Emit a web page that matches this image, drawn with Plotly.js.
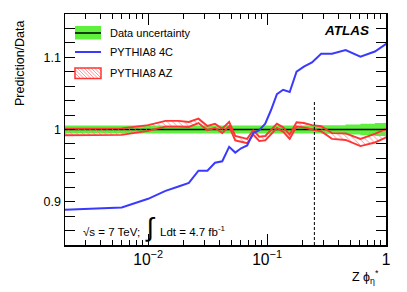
<!DOCTYPE html>
<html>
<head>
<meta charset="utf-8">
<script src="https://cdn.plot.ly/plotly-3.0.1.min.js"></script>
<style>html,body{margin:0;padding:0;background:#fff;}#chart{width:407px;height:292px;}</style>
</head>
<body>
<div id="chart"></div>
<script>
// ---- data ----
const phiStar = [0.002,0.006,0.010,0.014,0.018,0.022,0.0265,0.0315,0.0365,0.042,0.048,0.054,0.0605,0.068,0.0765,0.086,0.0965,0.108,0.121,0.1365,0.155,0.177,0.204,0.2385,0.285,0.3515,0.4575,0.6095,0.8065,1.0355];
const ratio4C = [0.889,0.892,0.904,0.915,0.921,0.926,0.943,0.943,0.954,0.956,0.976,0.968,0.974,0.978,0.995,0.999,1.008,1.027,1.049,1.055,1.052,1.080,1.087,1.093,1.105,1.105,1.110,1.101,1.108,1.120];
const ratioAZ = [0.9965,0.997,1.002,1.008,1.008,1.007,1.012,1.002,1.005,0.998,1.0075,0.988,0.986,0.984,0.996,0.987,0.988,0.997,1.005,1.000,0.990,1.007,1.006,1.003,1.001,0.991,0.990,0.982,0.988,0.996];
const halfAZ = [0.0045,0.0045,0.004,0.004,0.004,0.0035,0.003,0.003,0.003,0.003,0.003,0.003,0.003,0.003,0.003,0.003,0.003,0.003,0.003,0.003,0.003,0.003,0.003,0.003,0.0035,0.004,0.0045,0.005,0.006,0.006];
const halfData = [0.0055,0.0055,0.0055,0.0055,0.0055,0.0055,0.0055,0.0055,0.0055,0.0055,0.0055,0.0055,0.0055,0.0055,0.0055,0.0055,0.0055,0.0055,0.0055,0.0055,0.0055,0.0055,0.0055,0.0055,0.006,0.006,0.007,0.008,0.009,0.011];
const cutX = [0.25, 0.25];
const cutY = [0.84, 1.04];
const refY = 1;
const xRange = [0.002, 1];
const yRange = [0.84, 1.16];
const xMinorTicks = [0.002,0.003,0.004,0.005,0.006,0.007,0.008,0.009,0.02,0.03,0.04,0.05,0.06,0.07,0.08,0.09,0.2,0.3,0.4,0.5,0.6,0.7,0.8,0.9];
const legendLabels = ['Data uncertainty', 'PYTHIA8 4C', 'PYTHIA8 AZ'];

// ---- styles ----
const GREEN = '#5ef03c';
const BLUE = '#3a3aff';
const RED = '#ff3535';
const FONT = 'Liberation Sans, Arial, Helvetica, sans-serif';

const dataUp = phiStar.map((x,i)=>refY+halfData[i]);
const dataDn = phiStar.map((x,i)=>refY-halfData[i]);
const azUp = ratioAZ.map((v,i)=>v+halfAZ[i]);
const azDn = ratioAZ.map((v,i)=>v-halfAZ[i]);

const traces = [
  {x: phiStar, y: dataUp, mode:'lines', line:{width:0, color:GREEN, shape:'hv'}, hoverinfo:'skip', showlegend:false},
  {x: phiStar, y: dataDn, mode:'lines', line:{width:0, color:GREEN, shape:'hv'}, fill:'tonexty', fillcolor:GREEN, hoverinfo:'skip', showlegend:false},
  {x: xRange, y: [refY, refY], mode:'lines', line:{width:1.5, color:'#000'}, showlegend:false},
  {x: phiStar, y: azUp, mode:'lines', line:{width:1.9, color:RED}, showlegend:false},
  {x: phiStar, y: azDn, mode:'lines', line:{width:1.9, color:RED}, fill:'tonexty', fillcolor:'rgba(0,0,0,0)',
   fillpattern:{shape:'\\', fgcolor:'#ff7a7a', bgcolor:'rgba(255,255,255,0)', size:4, solidity:0.2}, showlegend:false},
  {x: phiStar, y: ratio4C, mode:'lines', line:{width:2, color:BLUE}, showlegend:false},
  {x: cutX, y: cutY, xaxis:'x2', mode:'lines', line:{width:1, color:'#000', dash:'3px,2px'}, showlegend:false}
];

// plot area in pixels
const L=65, R=386, T=14, B=245;
const px = x => (x-L)/(R-L);
const py = y => (B-y)/(B-T);

// manual legend
const shapes = [];
const annotations = [];
const bx0=75, bx1=101;
shapes.push({type:'rect', xref:'paper', yref:'paper', x0:px(bx0), x1:px(bx1), y0:py(39.5), y1:py(26), fillcolor:GREEN, line:{width:0}});
shapes.push({type:'line', xref:'paper', yref:'paper', x0:px(bx0), x1:px(bx1), y0:py(33), y1:py(33), line:{width:1.5, color:'#000'}});
shapes.push({type:'line', xref:'paper', yref:'paper', x0:px(bx0), x1:px(bx1), y0:py(52), y1:py(52), line:{width:2, color:BLUE}});
// hatched box
const ht=68, hb=78.5;
let path='';
for(let k=-12;k<30;k+=3.5){
  let xa=bx0+k, ya=ht, xb=bx0+k+(hb-ht), yb=hb;
  if(xa<bx0){ ya=ht+(bx0-xa); xa=bx0; }
  if(xb>bx1){ yb=hb-(xb-bx1); xb=bx1; }
  if(xa>=xb) continue;
  path += `M${px(xa)},${py(ya)}L${px(xb)},${py(yb)}`;
}
shapes.push({type:'path', xref:'paper', yref:'paper', path:path, line:{width:0.8, color:'#ff8080'}});
shapes.push({type:'rect', xref:'paper', yref:'paper', x0:px(bx0), x1:px(bx1), y0:py(hb), y1:py(ht), line:{width:1.5, color:RED}});
const ly=[33,52,73];
legendLabels.forEach((t,i)=>annotations.push({xref:'paper', yref:'paper', x:px(108), y:py(ly[i]), xanchor:'left', yanchor:'middle', text:t, showarrow:false, font:{family:FONT, size:11, color:'#000'}}));

annotations.push({xref:'paper', yref:'paper', x:px(371), y:py(31), xanchor:'right', yanchor:'middle', text:'<b><i>ATLAS</i></b>', showarrow:false, font:{family:FONT, size:13.5, color:'#000'}});
annotations.push({xref:'paper', yref:'paper', x:px(81), y:py(227), xanchor:'left', yanchor:'middle', text:'√s = 7 TeV;  <span style="font-size:26px">∫</span>  Ldt = 4.7 fb<sup>-1</sup>', showarrow:false, font:{family:FONT, size:11.5, color:'#000'}});
annotations.push({xref:'paper', yref:'paper', x:px(381), y:py(277), xanchor:'right', yanchor:'middle', text:'Z ϕ<sub>η</sub><sup>*</sup>', showarrow:false, font:{family:FONT, size:12.5, color:'#000'}});
annotations.push({xref:'paper', yref:'paper', x:px(20), y:py(63), xanchor:'center', yanchor:'middle', textangle:-90, text:'Prediction/Data', showarrow:false, font:{family:FONT, size:12.5, color:'#000'}});

const logRange = [Math.log10(xRange[0]), Math.log10(xRange[1])];
const layout = {
  width:407, height:292,
  margin:{l:L, r:407-R, t:T, b:292-B},
  paper_bgcolor:'#fff', plot_bgcolor:'#fff',
  showlegend:false,
  font:{family:FONT, size:12.5, color:'#000'},
  xaxis:{type:'log', range:logRange, dtick:1, exponentformat:'power',
    showgrid:false, zeroline:false, showline:true, linecolor:'#000', linewidth:1.5, mirror:'allticks',
    ticks:'inside', ticklen:11, tickcolor:'#000', tickwidth:1,
    tickfont:{family:FONT, size:12.5}},
  xaxis2:{type:'log', range:logRange, overlaying:'x', anchor:'y', side:'bottom', tickvals:xMinorTicks, showticklabels:false,
    showgrid:false, zeroline:false, showline:false, mirror:'allticks',
    ticks:'inside', ticklen:5, tickcolor:'#000', tickwidth:1},
  yaxis:{range:yRange, tick0:0.9, dtick:0.1,
    showgrid:false, zeroline:false, showline:true, linecolor:'#000', linewidth:1.5, mirror:'allticks',
    ticks:'inside', ticklen:10, tickcolor:'#000', tickwidth:1,
    minor:{ticks:'inside', ticklen:5, dtick:0.02, tickcolor:'#000', showgrid:false},
    tickfont:{family:FONT, size:12.5}},
  shapes:shapes,
  annotations:annotations
};

Plotly.newPlot('chart', traces, layout, {staticPlot:true, displayModeBar:false});
</script>
</body>
</html>
